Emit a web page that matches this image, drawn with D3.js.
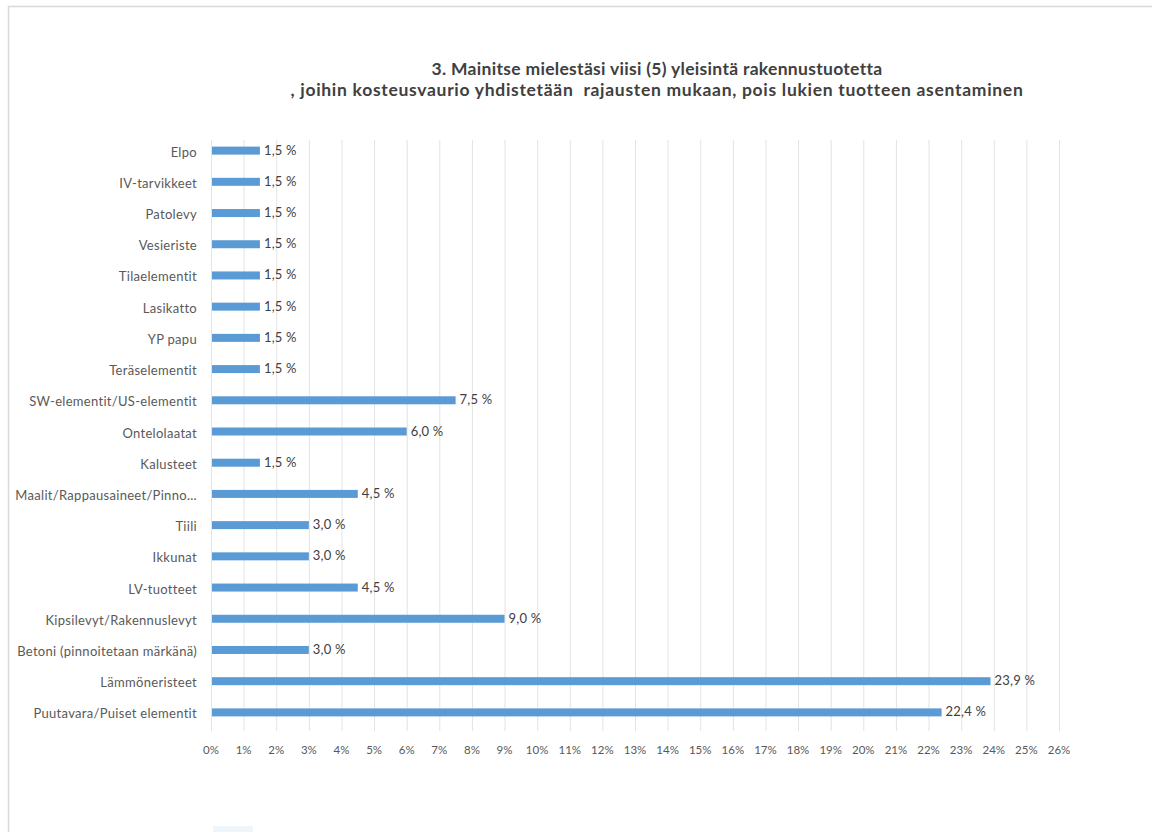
<!DOCTYPE html>
<html>
<head>
<meta charset="utf-8">
<script src="https://cdn.jsdelivr.net/npm/d3@7"></script>
<style>
  body { margin: 0; background: #fff; }
  svg { display: block; }
  text { font-family: Lato, "Open Sans", sans-serif; }
</style>
</head>
<body>
<svg id="chart" width="1152" height="832"></svg>
<script>
// categories top -> bottom, as shown in the chart
var categories = [
  "Elpo", "IV-tarvikkeet", "Patolevy", "Vesieriste", "Tilaelementit",
  "Lasikatto", "YP papu", "Teräselementit", "SW-elementit/US-elementit",
  "Ontelolaatat", "Kalusteet", "Maalit/Rappausaineet/Pinno...", "Tiili",
  "Ikkunat", "LV-tuotteet", "Kipsilevyt/Rakennuslevyt",
  "Betoni (pinnoitetaan märkänä)", "Lämmöneristeet", "Puutavara/Puiset elementit"
]
var values = [1.5, 1.5, 1.5, 1.5, 1.5, 1.5, 1.5, 1.5, 7.5, 6.0, 1.5, 4.5, 3.0, 3.0, 4.5, 9.0, 3.0, 23.9, 22.4]
var ticks = d3.range(0, 27)
var titleLines = [
  "3. Mainitse mielestäsi viisi (5) yleisintä rakennustuotetta",
  ", joihin kosteusvaurio yhdistetään  rajausten mukaan, pois lukien tuotteen asentaminen"
]

var svg = d3.select("#chart")
var plotLeft = 211, plotRight = 1059, plotTop = 136, plotBottom = 729

// outer chart border (only top and left visible in the crop)
svg.append("path")
  .attr("d", "M8.5,832 V6.5 H1152")
  .attr("fill", "none")
  .attr("stroke", "#d9d9d9")
  .attr("stroke-width", 1.5)

var x = d3.scaleLinear().domain([0, 26]).range([plotLeft, plotRight])
var y = d3.scaleBand().domain(categories).range([plotTop, plotBottom])

// gridlines
svg.append("g").selectAll("line").data(ticks).enter()
  .append("line")
    .attr("x1", function(d) { return x(d) + 0.5 })
    .attr("x2", function(d) { return x(d) + 0.5 })
    .attr("y1", plotTop + 4)
    .attr("y2", plotBottom + 2)
    .attr("stroke", "#e3e3e3")
    .attr("stroke-width", 1)

// tick labels
svg.append("g").selectAll("text").data(ticks).enter()
  .append("text")
    .attr("x", function(d) { return x(d) })
    .attr("y", 754)
    .attr("text-anchor", "middle")
    .attr("font-size", 11.5)
    .attr("fill", "#595959")
    .text(function(d) { return d + "%" })

// category labels
svg.append("g").selectAll("text").data(categories).enter()
  .append("text")
    .attr("x", 197)
    .attr("y", function(d) { return y(d) + y.bandwidth() / 2 + 5 })
    .attr("text-anchor", "end")
    .attr("font-size", 13)
    .attr("letter-spacing", 0.3)
    .attr("fill", "#595959")
    .text(function(d) { return d })

var barH = 8
var rows = categories.map(function(c, i) { return { cat: c, val: values[i] } })

svg.append("g").selectAll("rect").data(rows).enter()
  .append("rect")
    .attr("x", x(0) + 1)
    .attr("y", function(d) { return y(d.cat) + y.bandwidth() / 2 - barH / 2 - 1 })
    .attr("width", function(d) { return x(d.val) - x(0) - 1 })
    .attr("height", barH)
    .attr("fill", "#5b9bd5")

svg.append("g").selectAll("text").data(rows).enter()
  .append("text")
    .attr("x", function(d) { return x(d.val) + 4 })
    .attr("y", function(d) { return y(d.cat) + y.bandwidth() / 2 + 3 })
    .attr("font-size", 13)
    .attr("letter-spacing", 0.2)
    .attr("fill", "#404040")
    .text(function(d) { return d.val.toFixed(1).replace(".", ",") + " %" })

// faint legend key remnant at the bottom edge
svg.append("rect")
  .attr("x", 213).attr("y", 826).attr("width", 40).attr("height", 6)
  .attr("fill", "#eef5fb")

// title
svg.append("g").selectAll("text").data(titleLines).enter()
  .append("text")
    .attr("x", 657)
    .attr("y", function(d, i) { return 75 + i * 21 })
    .attr("text-anchor", "middle")
    .attr("font-size", 17.5)
    .attr("letter-spacing", function(d, i) { return i == 0 ? 0.3 : 0.7 })
    .attr("font-weight", "bold")
    .attr("fill", "#404040")
    .style("white-space", "pre")
    .text(function(d) { return d })
</script>
</body>
</html>
